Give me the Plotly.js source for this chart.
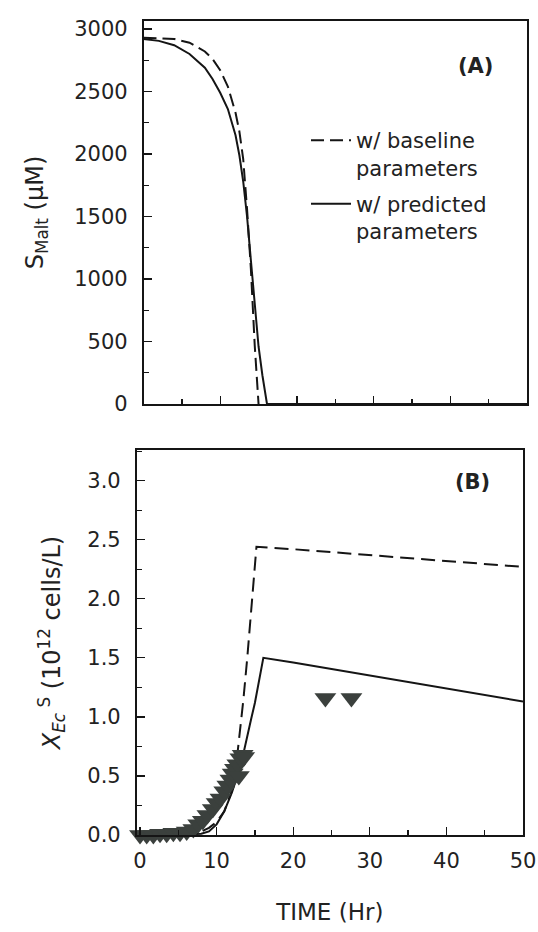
<!DOCTYPE html>
<html>
<head>
<meta charset="utf-8">
<script src="https://cdn.plot.ly/plotly-3.0.1.min.js"></script>
<style>html,body{margin:0;padding:0;background:#fff;}#chart{width:538px;height:932px;}</style>
</head>
<body>
<div id="chart"></div>
<script>
// Panel A: maltose substrate (uM) vs time (hr)
var timeA_baseline = [0, 2, 4, 6, 8, 9, 10, 11, 12, 12.5, 13, 13.5, 14, 14.5, 15];
var smalt_baseline = [2930, 2928, 2920, 2890, 2820, 2760, 2670, 2540, 2330, 2180, 1960, 1560, 1080, 470, 0];
var timeA_predicted = [0, 2, 4, 6, 8, 9, 10, 11, 12, 12.5, 13, 13.5, 14, 14.5, 15, 15.5, 16.1, 50];
var smalt_predicted = [2920, 2905, 2870, 2800, 2690, 2600, 2490, 2360, 2150, 1990, 1780, 1500, 1150, 780, 460, 230, 0, 0];

// Panel B: E. coli cells (10^12 cells/L) vs time (hr)
var timeB_baseline = [0, 2, 4, 6, 8, 9, 10, 11, 12, 12.5, 13, 13.5, 14, 14.5, 15, 15.2, 20, 30, 40, 50];
var xec_baseline = [0, 0, 0.005, 0.01, 0.03, 0.06, 0.11, 0.2, 0.38, 0.56, 0.85, 1.15, 1.5, 1.9, 2.3, 2.44, 2.42, 2.37, 2.32, 2.27];
var timeB_predicted = [0, 2, 4, 6, 8, 9, 10, 11, 12, 13, 13.5, 14, 14.5, 15, 15.5, 16.1, 20, 30, 40, 50];
var xec_predicted = [0, 0, 0, 0.005, 0.01, 0.03, 0.09, 0.2, 0.36, 0.56, 0.69, 0.85, 0.98, 1.12, 1.28, 1.5, 1.46, 1.35, 1.24, 1.13];

// Measured data (triangles)
var timeObs = [0, 0.87, 1.74, 2.61, 3.48, 4.35, 5.22, 6.09, 6.96, 7.6, 8.2, 8.8, 9.5, 10.0, 10.5, 11.0, 11.4, 11.8, 12.1, 12.4, 12.7, 12.9, 13.1, 13.4, 13.6, 24.2, 27.6];
var xecObs = [0, 0, 0, 0.01, 0.01, 0.02, 0.02, 0.03, 0.05, 0.09, 0.12, 0.17, 0.22, 0.27, 0.31, 0.37, 0.42, 0.47, 0.52, 0.56, 0.6, 0.5, 0.65, 0.68, 0.66, 1.16, 1.16];

var legendNames = ['w/ baseline<br>parameters', 'w/ predicted<br>parameters'];
var xTicks = [0, 10, 20, 30, 40, 50];

var W = 538, H = 932;
function fx(px) { return px / W; }
function fy(py) { return 1 - py / H; }

var FONT = 'DejaVu Sans, Arial, sans-serif';
var INK = '#151515';

var traces = [
  {x: timeA_baseline, y: smalt_baseline, xaxis: 'x2', yaxis: 'y2', mode: 'lines', name: legendNames[0],
   line: {color: INK, width: 2, dash: '13px,6px'}, showlegend: true, legendgroup: 'a'},
  {x: timeA_predicted, y: smalt_predicted, xaxis: 'x2', yaxis: 'y2', mode: 'lines', name: legendNames[1],
   line: {color: INK, width: 2}, showlegend: true, legendgroup: 'b'},
  {x: timeB_baseline, y: xec_baseline, xaxis: 'x', yaxis: 'y', mode: 'lines', name: 'baseline',
   line: {color: INK, width: 2, dash: '14px,7px'}, showlegend: false},
  {x: timeB_predicted, y: xec_predicted, xaxis: 'x', yaxis: 'y', mode: 'lines', name: 'predicted',
   line: {color: INK, width: 2}, showlegend: false},
  {x: timeObs, y: xecObs, xaxis: 'x', yaxis: 'y', mode: 'markers', name: 'data', cliponaxis: false,
   marker: {symbol: 'triangle-down', size: 19, color: '#3b403d', line: {width: 0}}, showlegend: false}
];

var axisCommon = {
  showline: true, linecolor: INK, linewidth: 1.6, mirror: true,
  ticks: 'inside', ticklen: 8, tickwidth: 1.3, tickcolor: INK,
  showgrid: false, zeroline: false,
  tickfont: {family: FONT, size: 21, color: '#222'}
};

var layout = {
  width: W, height: H,
  margin: {l: 0, r: 0, t: 0, b: 0},
  paper_bgcolor: '#fff', plot_bgcolor: '#fff',
  showlegend: true,
  legend: {x: fx(306), y: fy(120), xanchor: 'left', yanchor: 'top', valign: 'top',
           traceorder: 'grouped', tracegroupgap: 6, itemwidth: 40,
           font: {family: FONT, size: 21, color: '#222'}, bgcolor: 'rgba(0,0,0,0)'},
  xaxis: Object.assign({}, axisCommon, {
    domain: [fx(136.5), fx(523)], range: [-0.46, 50], anchor: 'y',
    tickvals: xTicks, ticklabelstandoff: 6,
    minor: {dtick: 5, ticklen: 5, tickwidth: 1.3, tickcolor: INK, ticks: 'inside', showgrid: false},
    title: {text: 'TIME (Hr)', font: {family: FONT, size: 23, color: '#222'}, standoff: 32}
  }),
  yaxis: Object.assign({}, axisCommon, {
    domain: [fy(835), fy(450)], range: [0, 3.26], anchor: 'x',
    dtick: 0.5, tickformat: '.1f', ticklabelstandoff: 10,
    minor: {dtick: 0.25, ticklen: 5, tickwidth: 1.3, tickcolor: INK, ticks: 'inside', showgrid: false},
    title: {text: '<i>X</i><sub><i>Ec</i></sub><sup> S</sup> (10<sup>12</sup> cells/L)',
            font: {family: FONT, size: 24, color: '#222'}, standoff: 20}
  }),
  xaxis2: Object.assign({}, axisCommon, {
    domain: [fx(143.5), fx(527)], range: [0, 50], anchor: 'y2',
    dtick: 10, showticklabels: false,
    minor: {dtick: 5, ticklen: 5, tickwidth: 1.3, tickcolor: INK, ticks: 'inside', showgrid: false}
  }),
  yaxis2: Object.assign({}, axisCommon, {
    domain: [fy(404), fy(21)], range: [0, 3064], anchor: 'x2',
    dtick: 500, ticklabelstandoff: 10,
    minor: {dtick: 250, ticklen: 5, tickwidth: 1.3, tickcolor: INK, ticks: 'inside', showgrid: false},
    title: {text: 'S<sub>Malt</sub> (µM)', font: {family: FONT, size: 24, color: '#222'}, standoff: 24}
  }),
  annotations: [
    {text: '<b>(A)</b>', xref: 'paper', yref: 'paper', x: fx(495), y: fy(52), showarrow: false,
     font: {family: FONT, size: 21, color: '#222'}},
    {text: '<b>(B)</b>', xref: 'paper', yref: 'paper', x: fx(492), y: fy(482), showarrow: false,
     font: {family: FONT, size: 21, color: '#222'}}
  ]
};

Plotly.newPlot('chart', traces, layout, {staticPlot: true, displayModeBar: false});
</script>
</body>
</html>
